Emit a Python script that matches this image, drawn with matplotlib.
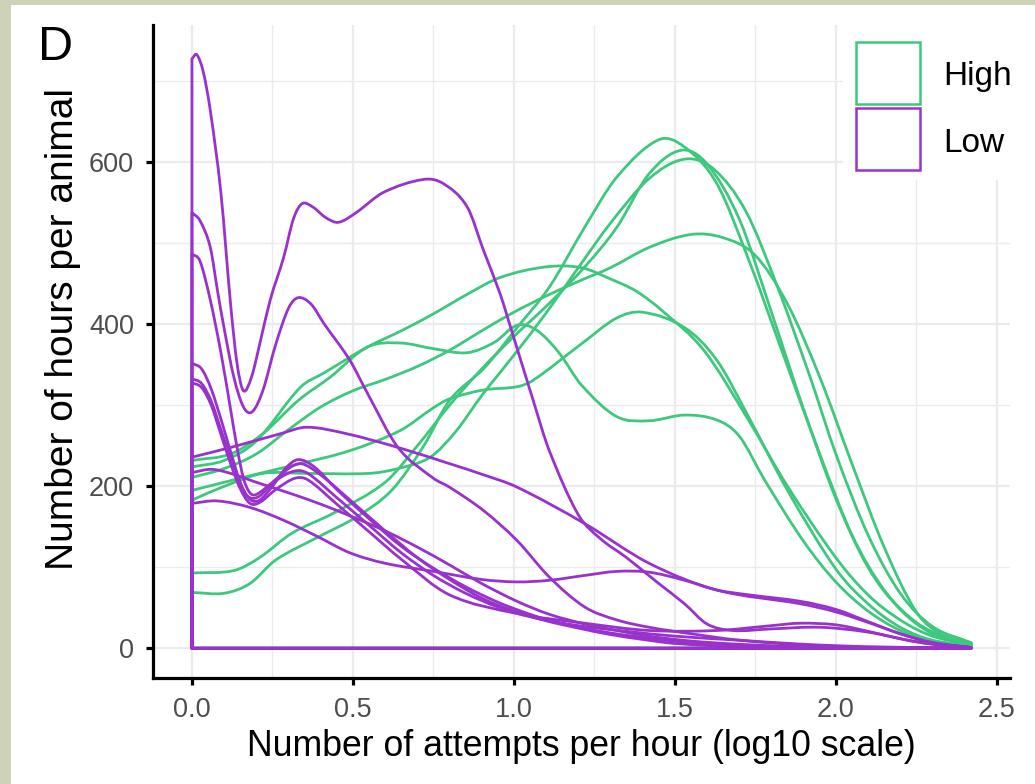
import numpy as np
import matplotlib
matplotlib.use("Agg")
import matplotlib.pyplot as plt
from matplotlib.path import Path
from matplotlib.patches import PathPatch, Rectangle
from matplotlib.ticker import FixedLocator

plt.rcParams["font.family"] = ["Liberation Sans", "DejaVu Sans"]

# density outlines per animal, (log10 attempts per hour, hours per animal)
high_a = [(0, 69), (0.1, 68), (0.18, 80), (0.26, 109), (0.39, 137), (0.51, 162), (0.62, 195),
          (0.72, 250), (0.8, 306), (0.91, 347), (1.01, 396), (1.11, 446), (1.22, 520), (1.32, 582),
          (1.45, 628), (1.53, 619), (1.63, 574), (1.73, 479), (1.84, 359), (1.95, 240), (2.05, 140),
          (2.15, 72), (2.25, 32), (2.35, 12), (2.42, 6)]
high_b = [(0, 93), (0.13, 96), (0.21, 112), (0.31, 142), (0.44, 167), (0.6, 205), (0.7, 250),
          (0.8, 300), (0.9, 345), (1.0, 385), (1.11, 426), (1.22, 471), (1.32, 520), (1.42, 586),
          (1.52, 615), (1.6, 598), (1.7, 530), (1.8, 415), (1.9, 295), (2.0, 185), (2.1, 100),
          (2.2, 48), (2.3, 18), (2.42, 5)]
high_c = [(0, 183), (0.1, 200), (0.22, 216), (0.35, 216), (0.55, 216), (0.64, 222), (0.74, 236),
          (0.82, 268), (0.9, 312), (1.0, 362), (1.1, 414), (1.2, 470), (1.3, 525), (1.42, 580),
          (1.53, 604), (1.62, 592), (1.72, 540), (1.82, 445), (1.92, 335), (2.0, 240), (2.1, 140),
          (2.2, 68), (2.3, 27), (2.42, 7)]
high_d = [(0, 211), (0.1, 222), (0.2, 240), (0.3, 270), (0.4, 298), (0.5, 318), (0.6, 332),
          (0.7, 348), (0.8, 368), (0.9, 392), (1.0, 415), (1.1, 435), (1.2, 453), (1.3, 470),
          (1.42, 495), (1.55, 511), (1.65, 507), (1.75, 485), (1.85, 425), (1.95, 335), (2.05, 228),
          (2.15, 125), (2.25, 45), (2.33, 17), (2.42, 7)]
high_e = [(0, 224), (0.1, 232), (0.2, 256), (0.336, 322), (0.41, 340), (0.545, 372), (0.65, 392),
          (0.75, 413), (0.85, 436), (0.958, 458), (1.1, 471), (1.21, 470), (1.3, 456), (1.38, 441),
          (1.46, 417), (1.59, 368), (1.73, 281), (1.85, 200), (2.0, 112), (2.1, 66), (2.2, 35),
          (2.3, 15), (2.42, 5)]
high_f = [(0, 195), (0.1, 205), (0.2, 215), (0.336, 228), (0.49, 244), (0.647, 269), (0.75, 297),
          (0.8, 308), (0.906, 319), (1.01, 323), (1.06, 331), (1.21, 376), (1.32, 408), (1.4, 415),
          (1.53, 396), (1.63, 356), (1.73, 285), (1.85, 195), (2.0, 98), (2.1, 55), (2.2, 26),
          (2.3, 10), (2.42, 4)]
high_g = [(0, 232), (0.12, 240), (0.22, 265), (0.33, 306), (0.43, 335), (0.545, 372), (0.647, 377),
          (0.75, 370), (0.855, 365), (0.94, 378), (1.01, 399), (1.07, 393), (1.14, 365), (1.21, 325),
          (1.32, 286), (1.42, 281), (1.53, 288), (1.63, 282), (1.7, 262), (1.78, 207), (1.9, 132),
          (2.0, 82), (2.1, 46), (2.2, 22), (2.3, 9), (2.42, 3)]

low_a = [(0, 728), (0.015, 733), (0.035, 712), (0.057, 664), (0.09, 562), (0.12, 425), (0.14, 352),
         (0.16, 318), (0.185, 335), (0.213, 380), (0.243, 430), (0.285, 483), (0.315, 530),
         (0.342, 549), (0.375, 545), (0.415, 532), (0.455, 526), (0.51, 538), (0.595, 563),
         (0.72, 579), (0.78, 574), (0.855, 545), (0.906, 491), (0.957, 438), (0.98, 409),
         (1.06, 306), (1.11, 244), (1.2, 165), (1.27, 135), (1.35, 112), (1.45, 80), (1.53, 55),
         (1.6, 30), (1.68, 22), (1.8, 24), (1.95, 26), (2.1, 20), (2.25, 8), (2.42, 1)]
low_b = [(0, 538), (0.025, 528), (0.057, 495), (0.08, 440), (0.1, 395), (0.13, 335), (0.16, 298),
         (0.187, 292), (0.22, 318), (0.26, 375), (0.3, 420), (0.33, 433), (0.37, 425), (0.41, 401),
         (0.49, 356), (0.545, 315), (0.64, 248), (0.75, 210), (0.8, 199), (0.906, 170), (1.01, 133),
         (1.11, 88), (1.22, 51), (1.32, 35), (1.42, 26), (1.55, 18), (1.7, 10), (1.9, 4), (2.1, 1),
         (2.42, 0)]
low_c = [(0, 487), (0.025, 478), (0.057, 430), (0.09, 365), (0.12, 295), (0.14, 248), (0.16, 210),
         (0.18, 192), (0.2, 190), (0.25, 205), (0.3, 222), (0.34, 228), (0.4, 214), (0.5, 180),
         (0.6, 145), (0.7, 112), (0.8, 85), (0.9, 62), (1.0, 46), (1.1, 34), (1.2, 25), (1.3, 17),
         (1.4, 11), (1.5, 6), (1.7, 2), (2.0, 1), (2.42, 0)]
low_d = [(0, 352), (0.03, 345), (0.06, 320), (0.09, 283), (0.12, 243), (0.15, 205), (0.18, 184),
         (0.21, 183), (0.25, 200), (0.29, 222), (0.33, 233), (0.38, 224), (0.45, 196), (0.55, 160),
         (0.65, 126), (0.75, 99), (0.85, 76), (0.95, 57), (1.05, 42), (1.15, 30), (1.3, 19),
         (1.45, 11), (1.6, 5), (1.8, 2), (2.42, 0)]
low_e = [(0, 333), (0.03, 327), (0.06, 305), (0.09, 270), (0.12, 235), (0.15, 200), (0.18, 186),
         (0.21, 188), (0.26, 207), (0.32, 219), (0.36, 216), (0.45, 186), (0.55, 152), (0.65, 118),
         (0.75, 90), (0.85, 68), (0.95, 51), (1.05, 39), (1.2, 28), (1.35, 21), (1.5, 15), (1.7, 10),
         (1.9, 5), (2.1, 2), (2.42, 0)]
low_f = [(0, 328), (0.03, 322), (0.06, 300), (0.09, 264), (0.12, 228), (0.15, 197), (0.18, 179),
         (0.21, 180), (0.26, 196), (0.32, 210), (0.36, 208), (0.45, 178), (0.55, 144), (0.65, 110),
         (0.8, 66), (1.01, 43), (1.22, 31), (1.42, 22), (1.63, 22), (1.8, 28), (1.89, 31), (2.0, 29),
         (2.1, 21), (2.2, 12), (2.3, 5), (2.42, 1)]
low_g = [(0, 236), (0.12, 248), (0.275, 265), (0.357, 273), (0.48, 265), (0.64, 248), (0.8, 228),
         (0.9, 215), (1.01, 199), (1.22, 154), (1.42, 105), (1.63, 72), (1.89, 55), (2.0, 45),
         (2.1, 32), (2.2, 18), (2.3, 7), (2.42, 1)]
low_h = [(0, 217), (0.06, 221), (0.12, 216), (0.2, 205), (0.3, 192), (0.4, 178), (0.5, 162),
         (0.6, 145), (0.7, 125), (0.8, 103), (0.9, 80), (1.01, 58), (1.11, 42), (1.22, 30),
         (1.32, 22), (1.42, 15), (1.55, 9), (1.7, 5), (1.9, 2), (2.42, 0)]
low_i = [(0, 179), (0.078, 182), (0.18, 174), (0.285, 158), (0.39, 138), (0.49, 118), (0.6, 105),
         (0.75, 95), (0.9, 85), (1.01, 82), (1.11, 84), (1.22, 90), (1.32, 95), (1.42, 94),
         (1.53, 84), (1.63, 72), (1.73, 66), (1.89, 58), (2.0, 48), (2.1, 33), (2.2, 18), (2.3, 7),
         (2.42, 1)]

high_curves = [high_a, high_b, high_c, high_d, high_e, high_f, high_g]
low_curves = [low_a, low_b, low_c, low_d, low_e, low_f, low_g, low_h, low_i]

group_names = ["High", "Low"]
group_colors = ["#3dc87e", "#9932cc"]

x_ticks = [0.0, 0.5, 1.0, 1.5, 2.0, 2.5]
y_ticks = [0, 200, 400, 600]


def outline_path(points):
    # smooth outline through the points, closed down to the baseline like geom_density
    pts = np.array(points, dtype=float)
    x, y = pts[:, 0], pts[:, 1]
    n = len(x)
    slope = np.empty(n)
    slope[0] = (y[1] - y[0]) / (x[1] - x[0])
    slope[-1] = (y[-1] - y[-2]) / (x[-1] - x[-2])
    slope[1:-1] = (y[2:] - y[:-2]) / (x[2:] - x[:-2])
    verts = [(x[0], 0.0), (x[0], y[0])]
    codes = [Path.MOVETO, Path.LINETO]
    for i in range(n - 1):
        h = x[i + 1] - x[i]
        verts += [(x[i] + h / 3, y[i] + slope[i] * h / 3),
                  (x[i + 1] - h / 3, y[i + 1] - slope[i + 1] * h / 3),
                  (x[i + 1], y[i + 1])]
        codes += [Path.CURVE4] * 3
    verts += [(x[-1], 0.0), (x[0], 0.0)]
    codes += [Path.LINETO, Path.CLOSEPOLY]
    return Path(verts, codes)


W, H = 1035, 784
fig = plt.figure(figsize=(W / 100, H / 100), dpi=100)
fig.patch.set_facecolor("white")

# frame strips along the left and top edges
fig.add_artist(Rectangle((0, 0), 11 / W, 1, transform=fig.transFigure,
                         facecolor="#cdd2b9", edgecolor="none", zorder=0))
fig.add_artist(Rectangle((0, 1 - 5 / H), 1, 5 / H, transform=fig.transFigure,
                         facecolor="#cdd2b9", edgecolor="none", zorder=0))

ax = fig.add_axes([153 / W, 1 - 678 / H, (1010 - 153) / W, (678 - 25) / H])
ax.set_xlim(-0.121, 2.541)
ax.set_ylim(-36.65, 769.65)

for curves, color in zip([high_curves, low_curves], group_colors):
    for pts in curves:
        ax.add_patch(PathPatch(outline_path(pts), fill=False, edgecolor=color,
                               lw=2.0, joinstyle="round", capstyle="round"))

ax.xaxis.set_major_locator(FixedLocator(x_ticks))
ax.xaxis.set_minor_locator(FixedLocator([0.25, 0.75, 1.25, 1.75, 2.25]))
ax.yaxis.set_major_locator(FixedLocator(y_ticks))
ax.yaxis.set_minor_locator(FixedLocator([100, 300, 500, 700]))
ax.set_xticklabels([f"{v:.1f}" for v in x_ticks])
ax.set_yticklabels([str(v) for v in y_ticks])

ax.grid(which="major", color="#ebebeb", lw=1.6)
ax.grid(which="minor", color="#ebebeb", lw=1.0)
ax.set_axisbelow(True)

for side in ["top", "right"]:
    ax.spines[side].set_visible(False)
for side in ["left", "bottom"]:
    ax.spines[side].set_linewidth(2.3)
    ax.spines[side].set_color("black")

ax.tick_params(which="major", length=5, width=2.3, color="black",
               labelsize=19.5, labelcolor="#4d4d4d")
ax.tick_params(axis="x", pad=9)
ax.tick_params(axis="y", pad=8.5)
ax.tick_params(which="minor", length=0)

fig.text(581 / W, 1 - 756 / H, "Number of attempts per hour (log10 scale)",
         ha="center", va="baseline", fontsize=25.7, color="black")
fig.text(63 / W, 1 - 328.5 / H, "Number of hours per animal", rotation=90,
         ha="center", va="center", fontsize=28, color="black")
fig.text(38 / W, 1 - 60 / H, "D", ha="left", va="baseline", fontsize=35, color="black")

# legend on a white background over the panel corner
fig.add_artist(Rectangle((843 / W, 1 - 180 / H), (W - 843) / W, (180 - 22) / H,
                         transform=fig.transFigure, facecolor="white",
                         edgecolor="none", zorder=2))
for k, (name, color) in enumerate(zip(group_names, group_colors)):
    top = 42 + k * 66
    fig.add_artist(Rectangle((856 / W, 1 - (top + 62) / H), 64 / W, 62 / H,
                             transform=fig.transFigure, facecolor="white",
                             edgecolor=color, lw=1.8, zorder=3))
    fig.text(943 / W, 1 - (85 + k * 67) / H, name, ha="left", va="baseline",
             fontsize=24, color="black", zorder=4)

fig.savefig("out.png", dpi=100)
